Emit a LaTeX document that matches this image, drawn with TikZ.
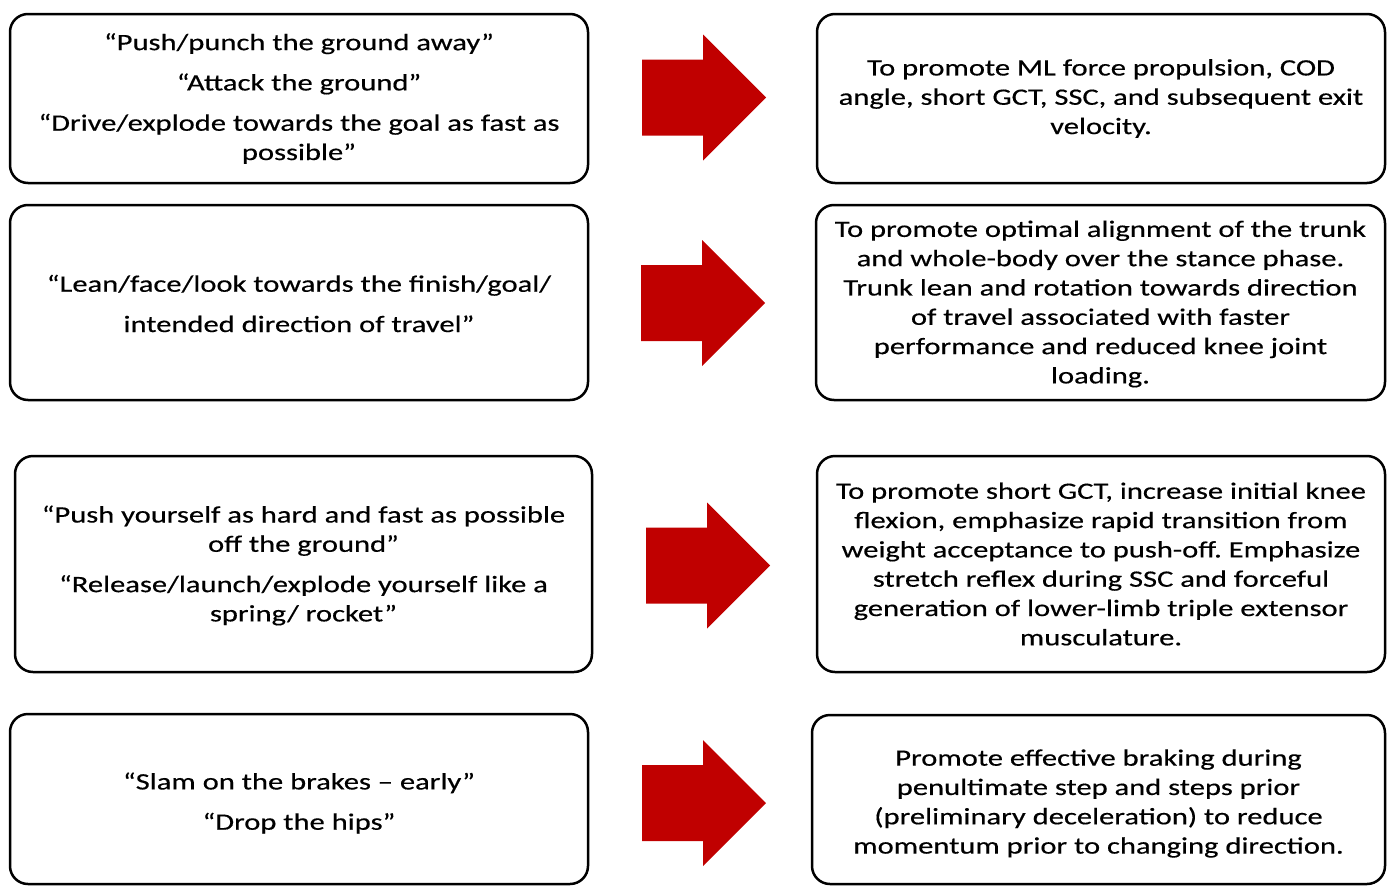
\documentclass[tikz,border=0pt]{standalone}
\usepackage{fontspec}
\setmainfont{Carlito}[FakeStretch=1.30,FakeBold=0.4]
\frenchspacing
\definecolor{arrowred}{HTML}{C00000}
\tikzset{
  box/.style={draw=black, line width=2.5pt, rounded corners=18pt, fill=white,
    align=center, inner sep=0pt, font=\fontsize{23.5}{29.3}\selectfont},
  boxtext/.style={align=center, inner sep=0pt, font=\fontsize{23.5}{29.3}\selectfont},
  bigarrow/.pic={
    \fill[arrowred] (0,-38) -- (61,-38) -- (61,-63) -- (124,0) -- (61,63) -- (61,38) -- (0,38) -- cycle;
  }
}
\begin{document}
\begin{tikzpicture}[x=1pt,y=-1pt]
\useasboundingbox (0,0) rectangle (1387,886);
% left boxes
\node[box, minimum width=578pt, minimum height=169pt] (l1) at (299,98.5)
 {“Push/punch the ground away”\\[11pt]“Attack the ground”\\[11pt]“Drive/explode towards the goal as fast as\\possible”};
\node[box, minimum width=578pt, minimum height=195pt] (l2) at (299,302.5) {};
\node[boxtext] (t2) at ([yshift=-1pt]l2.center)
 {“Lean/face/look towards the finish/goal/\\[11pt]intended direction of travel”};
\node[box, minimum width=577pt, minimum height=216pt] (l3) at (303.5,564) {};
\node[boxtext] (t3) at ([yshift=-1.5pt]l3.center)
 {“Push yourself as hard and fast as possible\\off the ground”\\[11pt]“Release/launch/explode yourself like a\\spring/ rocket”};
\node[box, minimum width=578pt, minimum height=170pt] (l4) at (299,799) {};
\node[boxtext] (t4) at ([yshift=-4pt]l4.center)
 {“Slam on the brakes – early”\\[11pt]“Drop the hips”};
% right boxes
\node[box, minimum width=568pt, minimum height=169pt] (r1) at (1101,98.5)
 {To promote ML force propulsion, COD\\angle, short GCT, SSC, and subsequent exit\\velocity.};
\node[box, minimum width=569pt, minimum height=195pt] (r2) at (1100.5,302.5) {};
\node[boxtext] (u2) at ([yshift=-1.5pt]r2.center)
 {To promote optimal alignment of the trunk\\and whole-body over the stance phase.\\Trunk lean and rotation towards direction\\of travel associated with faster\\performance and reduced knee joint\\loading.};
\node[box, minimum width=568pt, minimum height=216pt] (r3) at (1101,564)
 {To promote short GCT, increase initial knee\\flexion, emphasize rapid transition from\\weight acceptance to push-off. Emphasize\\stretch reflex during SSC and forceful\\generation of lower-limb triple extensor\\musculature.};
\node[box, minimum width=573pt, minimum height=169pt] (r4) at (1098.5,799.5) {};
\node[boxtext] (u4) at ([yshift=-4pt]r4.center)
 {Promote effective braking during\\penultimate step and steps prior\\(preliminary deceleration) to reduce\\momentum prior to changing direction.};
% arrows
\pic at (642,97.5) {bigarrow};
\pic at (641,303) {bigarrow};
\pic at (646,565.5) {bigarrow};
\pic at (642,803) {bigarrow};
\end{tikzpicture}
\end{document}
